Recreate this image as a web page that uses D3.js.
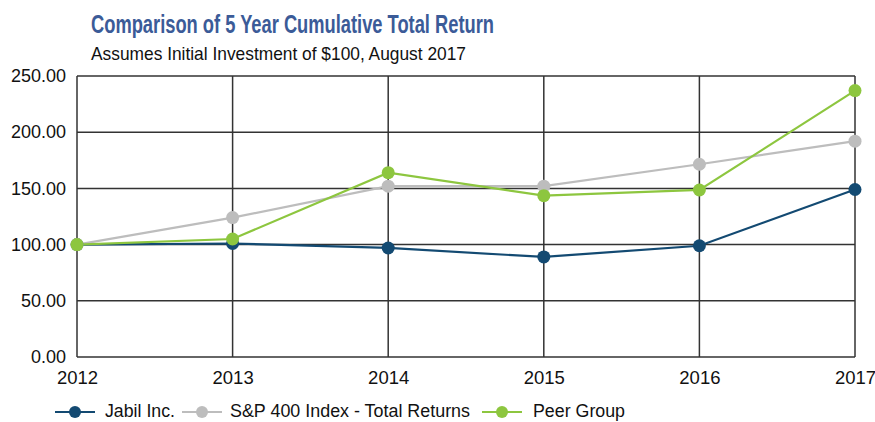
<!DOCTYPE html>
<html><head><meta charset="utf-8">
<script src="https://cdn.jsdelivr.net/npm/d3@7"></script>
<style>body{margin:0;background:#fff}svg{display:block}text{font-family:"Liberation Sans",Arial,sans-serif}</style>
</head><body><svg id="c" width="875" height="422"></svg>
<script>
const years = [2012, 2013, 2014, 2015, 2016, 2017];
const jabil = [100, 101, 97, 89, 99, 149];
const sp400 = [100, 124, 152, 152, 171.5, 192];
const peer = [100, 105, 164, 143.5, 148.6, 237];
const yTicks = [0, 50, 100, 150, 200, 250];
const seriesNames = ["Jabil Inc.", "S&P 400 Index - Total Returns", "Peer Group"];
const seriesColors = ["#134a72", "#bdbdbd", "#8dc63f"];
const title = "Comparison of 5 Year Cumulative Total Return";
const subtitle = "Assumes Initial Investment of $100, August 2017";

const svg = d3.select("#c");
const L = 77, R = 855, T = 76, B = 357;
const x = d3.scalePoint().domain(years).range([L, R]);
const y = d3.scaleLinear().domain([0, 250]).range([B, T]);

svg.append("text").attr("x", 91).attr("y", 33).attr("fill", "#3b5b98")
  .attr("font-weight", "bold").attr("font-size", 25)
  .style("font-family", "'Liberation Sans Narrow','Liberation Sans',Arial")
  .attr("textLength", 403).attr("lengthAdjust", "spacingAndGlyphs").text(title);
svg.append("text").attr("x", 91).attr("y", 60).attr("fill", "#111")
  .attr("font-size", 18.5).attr("textLength", 375).attr("lengthAdjust", "spacingAndGlyphs").text(subtitle);

// grid
const g = svg.append("g");
g.selectAll("line.h").data(yTicks).join("line")
  .attr("x1", L).attr("x2", R).attr("y1", d => y(d)).attr("y2", d => y(d))
  .attr("stroke", "#333").attr("stroke-width", 1.5);
g.selectAll("line.v").data(years).join("line")
  .attr("y1", T).attr("y2", B).attr("x1", d => x(d)).attr("x2", d => x(d))
  .attr("stroke", "#333").attr("stroke-width", 1.5);

// axes labels
const yAxis = d3.axisLeft(y).tickValues(yTicks).tickFormat(d3.format(".2f")).tickSize(0).tickPadding(11);
const ya = svg.append("g").attr("transform", `translate(${L},0)`).call(yAxis);
ya.select(".domain").remove();
ya.selectAll("text").attr("font-size", 18).attr("fill", "#111").style("font-family", "'Liberation Sans',Arial");
const xAxis = d3.axisBottom(x).tickSize(0).tickPadding(14).tickFormat(d3.format("d"));
const xa = svg.append("g").attr("transform", `translate(0,${B})`).call(xAxis);
xa.select(".domain").remove();
xa.selectAll("text").attr("font-size", 18.5).attr("fill", "#111").style("font-family", "'Liberation Sans',Arial");

const data = [jabil, sp400, peer];
const line = d3.line().x((d, i) => x(years[i])).y(d => y(d));
const order = [0, 1, 2];
order.forEach(k => {
  svg.append("path").datum(data[k]).attr("d", line).attr("fill", "none")
    .attr("stroke", seriesColors[k]).attr("stroke-width", 2.2);
});
order.forEach(k => {
  svg.append("g").selectAll("circle").data(data[k]).join("circle")
    .attr("cx", (d, i) => x(years[i])).attr("cy", d => y(d)).attr("r", 6.5)
    .attr("fill", seriesColors[k]);
});

// legend
const legX = [55, 182, 482];
const legT = [105, 230, 533];
const legW = [70, 240, 92];
const leg = svg.append("g");
seriesNames.forEach((n, k) => {
  const lx = legX[k], ly = 412;
  leg.append("line").attr("x1", lx).attr("x2", lx + 40).attr("y1", ly).attr("y2", ly)
    .attr("stroke", seriesColors[k]).attr("stroke-width", 2.2);
  leg.append("circle").attr("cx", lx + 20).attr("cy", ly).attr("r", 6).attr("fill", seriesColors[k]);
  leg.append("text").attr("x", legT[k]).attr("y", 417).attr("font-size", 17.5).attr("fill", "#111")
    .attr("textLength", legW[k]).attr("lengthAdjust", "spacingAndGlyphs").text(n);
});
</script></body></html>
